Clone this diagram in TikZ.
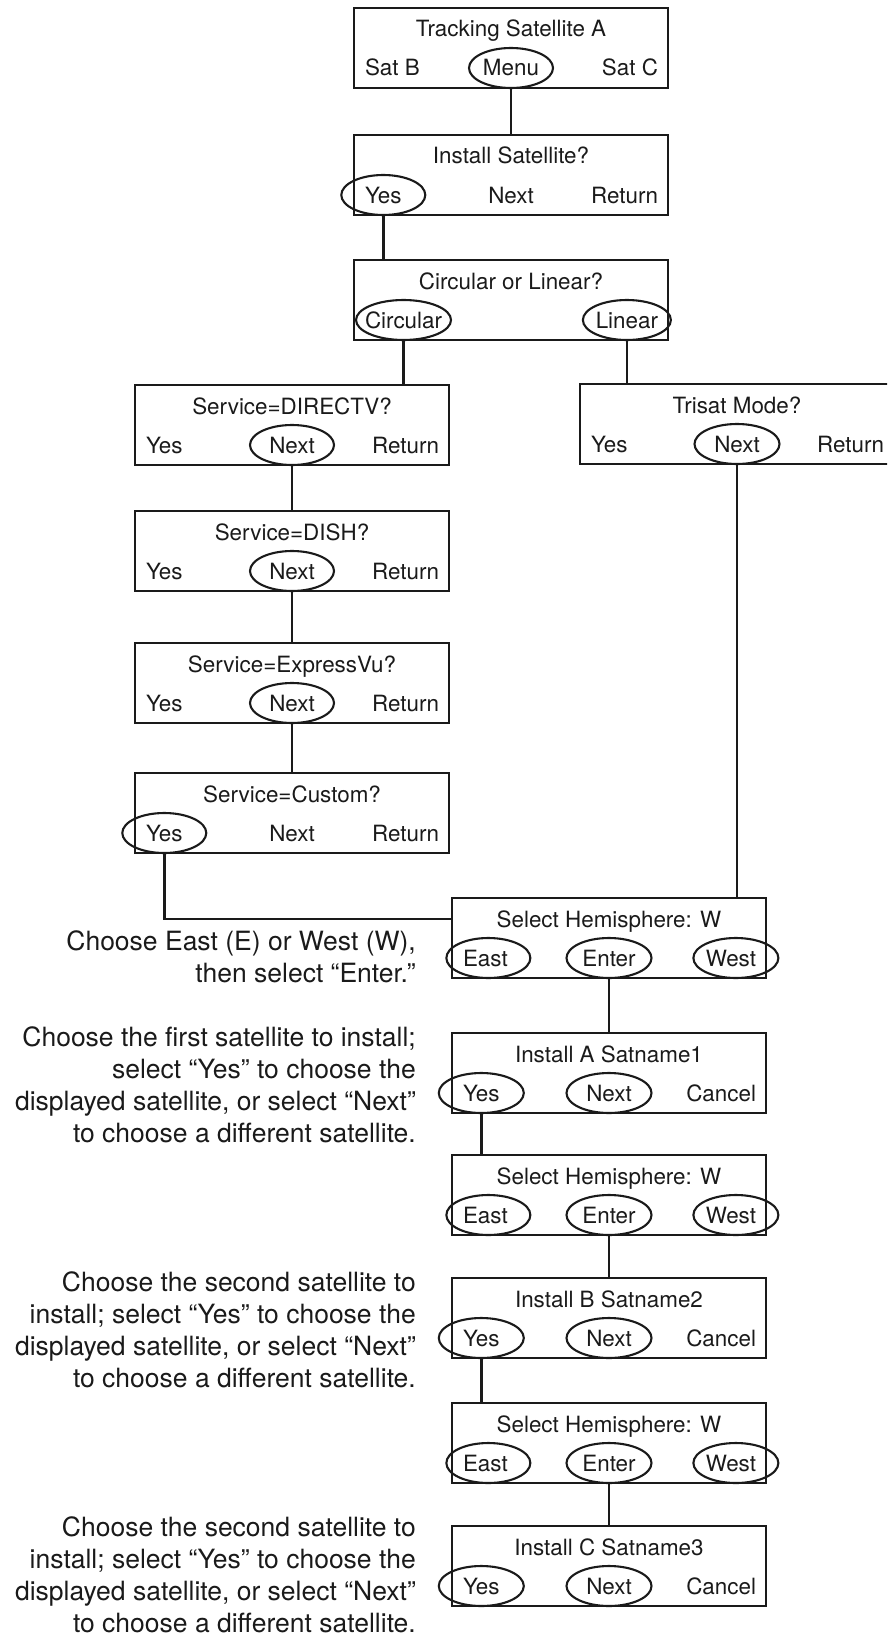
\documentclass[tikz,border=0pt]{standalone}
\usepackage{fontspec}
\setmainfont{TeX Gyre Heros}
\usetikzlibrary{shapes.geometric,calc}
\definecolor{ink}{HTML}{1A1A1A}
\tikzset{
  screen/.style={draw=ink, line width=2.4pt, minimum width=314pt, minimum height=80pt, inner sep=0pt},
  ttl/.style={text=ink, font=\fontsize{22.4pt}{26pt}\selectfont, inner sep=0pt, text height=16pt, text depth=0pt},
  ring/.style={ellipse, draw=ink, line width=2.1pt, minimum width=84pt, minimum height=40pt, inner sep=0pt},
  wire/.style={draw=ink, line width=2.6pt},
  note/.style={text=ink, font=\fontsize{26.5pt}{32pt}\selectfont, align=right, inner sep=0pt, anchor=base east},
}
% one menu screen: name, left x, top y, title, left / middle / right soft-key labels
\newcommand\mkscreen[7]{%
  \node[screen] (#1) at (#2+157,#3+40) {};
  \node[ttl] (#1-t) at ($(#1.center)+(0,-19)$) {#4};
  \node[ttl, anchor=west] (#1-l) at ($(#1.west)+(12,20)$) {#5};
  \node[ttl] (#1-m) at ($(#1.center)+(0,20)$) {#6};
  \node[ttl, anchor=east] (#1-r) at ($(#1.east)+(-11,20)$) {#7};
}
\begin{document}
\begin{tikzpicture}[x=1pt, y=-1pt]
\clip (0,0) rectangle (887,1635);

% screens
\mkscreen{b1}{354}{8}{Tracking Satellite A}{Sat B}{Menu}{Sat C}
\mkscreen{b2}{354}{135}{Install Satellite?}{Yes}{Next}{Return}
\mkscreen{b3}{354}{260}{Circular or Linear?}{Circular}{}{Linear}
\mkscreen{b4}{135}{385}{Service=DIRECTV?}{Yes}{Next}{Return}
\mkscreen{b5}{135}{511}{Service=DISH?}{Yes}{Next}{Return}
\mkscreen{b6}{135}{643}{Service=ExpressVu?}{Yes}{Next}{Return}
\mkscreen{b7}{135}{773}{Service=Custom?}{Yes}{Next}{Return}
\mkscreen{tri}{580}{384}{Trisat Mode?}{Yes}{Next}{Return}
\mkscreen{sh1}{452}{898}{Select Hemisphere: W}{East}{Enter}{West}
\mkscreen{ia}{452}{1033}{Install A Satname1}{Yes}{Next}{Cancel}
\mkscreen{sh2}{452}{1155}{Select Hemisphere: W}{East}{Enter}{West}
\mkscreen{ib}{452}{1278}{Install B Satname2}{Yes}{Next}{Cancel}
\mkscreen{sh3}{452}{1403}{Select Hemisphere: W}{East}{Enter}{West}
\mkscreen{ic}{452}{1526}{Install C Satname3}{Yes}{Next}{Cancel}

% selected soft keys
\node[ring] (b1-mo) at (b1-m) {};
\node[ring] (b2-lo) at (b2-l) {};
\node[ring, minimum width=95pt] (b3-lo) at (b3-l) {};
\node[ring, minimum width=88pt] (b3-ro) at (b3-r) {};
\node[ring] (b4-mo) at (b4-m) {};
\node[ring] (b5-mo) at (b5-m) {};
\node[ring] (b6-mo) at (b6-m) {};
\node[ring] (b7-lo) at (b7-l) {};
\node[ring, minimum width=85pt] (tri-mo) at (tri-m) {};
\foreach \s in {sh1,sh2,sh3}{
  \node[ring, xshift=3pt] (\s-lo) at (\s-l) {};
  \node[ring, minimum width=85pt] (\s-mo) at (\s-m) {};
  \node[ring, minimum width=85pt, xshift=5pt] (\s-ro) at (\s-r) {};
}
\foreach \s in {ia,ib,ic}{
  \node[ring, minimum width=85pt] (\s-lo) at (\s-l) {};
  \node[ring, minimum width=85pt] (\s-mo) at (\s-m) {};
}

% flow
\draw[wire] (b1-mo.south) -- (b1-mo.south |- b2.north);
\draw[wire] (b2-lo.south) -- (b2-lo.south |- b3.north);
\draw[wire] (b3-lo.south) -- (b3-lo.south |- b4.north);
\draw[wire] (b3-ro.south) -- (b3-ro.south |- tri.north);
\draw[wire] (b4-mo.south) -- (b4-mo.south |- b5.north);
\draw[wire] (b5-mo.south) -- (b5-mo.south |- b6.north);
\draw[wire] (b6-mo.south) -- (b6-mo.south |- b7.north);
\coordinate (sh1-in) at ($(sh1.west)+(0,-19)$);
\draw[wire] (b7-lo.south) |- (sh1-in);
\draw[wire] (tri-mo.south) -- (tri-mo.south |- sh1.north);
\draw[wire] (sh1-mo.south) -- (sh1-mo.south |- ia.north);
\draw[wire] (ia-lo.south) -- (ia-lo.south |- sh2.north);
\draw[wire] (sh2-mo.south) -- (sh2-mo.south |- ib.north);
\draw[wire] (ib-lo.south) -- (ib-lo.south |- sh3.north);
\draw[wire] (sh3-mo.south) -- (sh3-mo.south |- ic.north);

% instructions (anchored at the baseline of the last line)
\node[note] (n1) at (416,982.5) {Choose East (E) or West (W),\\ then select “Enter.”};
\node[note] (n2) at (416,1142.5) {Choose the first satellite to install;\\ select “Yes” to choose the\\ displayed satellite, or select “Next”\\ to choose a different satellite.};
\node[note] (n3) at (416,1387.5) {Choose the second satellite to\\ install; select “Yes” to choose the\\ displayed satellite, or select “Next”\\ to choose a different satellite.};
\node[note] (n4) at (416,1632) {Choose the second satellite to\\ install; select “Yes” to choose the\\ displayed satellite, or select “Next”\\ to choose a different satellite.};
\end{tikzpicture}
\end{document}
